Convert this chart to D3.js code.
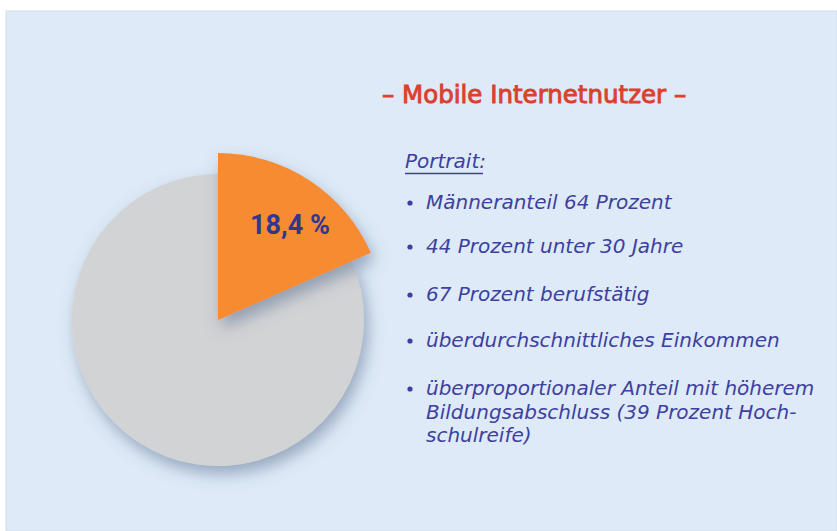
<!DOCTYPE html>
<html><head><meta charset="utf-8">
<script src="https://cdn.jsdelivr.net/npm/d3@7"></script>
<style>body{margin:0;background:#fff}svg{display:block}</style>
</head><body>
<script>
const categories = ["Mobile Internetnutzer", "Übrige"];
const values = [18.4, 81.6];
const valueLabels = ["18,4 %"];
const title = "– Mobile Internetnutzer –";
const portraitHeading = "Portrait:";
const bullets = [
  ["Männeranteil 64 Prozent"],
  ["44 Prozent unter 30 Jahre"],
  ["67 Prozent berufstätig"],
  ["überdurchschnittliches Einkommen"],
  ["überproportionaler Anteil mit höherem", "Bildungsabschluss (39 Prozent Hoch-", "schulreife)"]
];

const W = 837, H = 531;
const svg = d3.select("body").append("svg").attr("width", W).attr("height", H);
const defs = svg.append("defs");
const f = defs.append("filter").attr("id","sh").attr("x","-30%").attr("y","-30%").attr("width","160%").attr("height","160%");
f.append("feDropShadow").attr("dx",4).attr("dy",8).attr("stdDeviation",8)
 .attr("flood-color","#4f6688").attr("flood-opacity",0.5);

svg.append("rect").attr("x",6).attr("y",11).attr("width",W-6).attr("height",H-11)
  .attr("fill","#deeaf7").attr("stroke","#d3deec").attr("stroke-width",1);

const cx = 218, cy = 320;
const colors = d3.scaleOrdinal().domain(categories).range(["#f68b33", "#d2d3d5"]);
const radius = d3.scaleOrdinal().domain(categories).range([167, 146]);
const pie = d3.pie().sort(null).value(d => d.v);
const arcs = pie(categories.map((c,i)=>({c, v: values[i]})));
const g = svg.append("g").attr("transform",`translate(${cx},${cy})`);
const arc = d3.arc().innerRadius(0).outerRadius(d => radius(d.data.c));
g.selectAll("path").data(arcs.slice().reverse()).join("path")
  .attr("d", arc).attr("fill", d => colors(d.data.c)).attr("filter","url(#sh)");

g.append("text").attr("x",72).attr("y",-86)
  .attr("text-anchor","middle")
  .attr("font-family","Roboto").attr("font-weight","bold").attr("font-size",27)
  .attr("fill","#2f3890").text(valueLabels[0]);

svg.append("text").attr("x",382).attr("y",103)
  .attr("font-family","DejaVu Sans").attr("font-size",24.5)
  .attr("fill","#d9412d").attr("stroke","#d9412d").attr("stroke-width",0.9)
  .text(title);

const txtColor = "#3d40a0";
svg.append("text").attr("x",405).attr("y",168)
  .attr("font-family","DejaVu Sans").attr("font-style","italic").attr("font-size",20)
  .attr("fill",txtColor).text(portraitHeading);
svg.append("line").attr("x1",405).attr("x2",483).attr("y1",173.5).attr("y2",173.5)
  .attr("stroke",txtColor).attr("stroke-width",1.5);

const starts = [209, 253, 301, 347, 395];
const lineH = 23.5;
bullets.forEach((lines, i) => {
  svg.append("circle").attr("cx",410).attr("cy",starts[i]-6).attr("r",2.6).attr("fill",txtColor);
  const t = svg.append("text").attr("font-family","DejaVu Sans").attr("font-style","italic")
    .attr("font-size",20).attr("fill",txtColor);
  lines.forEach((l, j) => {
    t.append("tspan").attr("x",426).attr("y",starts[i] + j*lineH).text(l);
  });
});
</script>
</body></html>
